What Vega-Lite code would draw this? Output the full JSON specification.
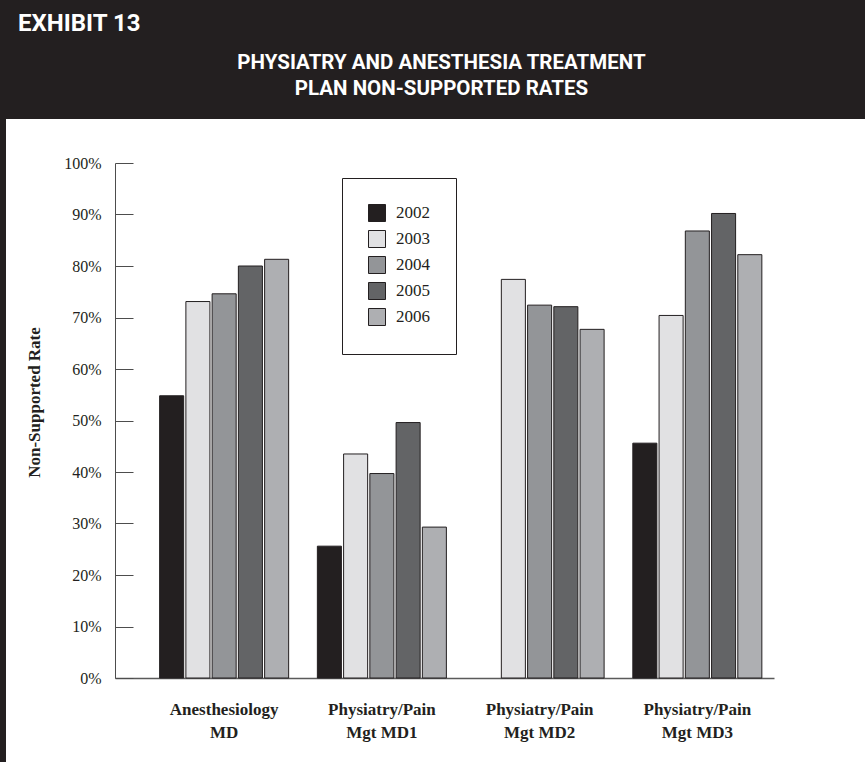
{
  "$schema": "https://vega.github.io/schema/vega-lite/v6.json",
  "background": "#231f20",
  "padding": {"left": 6, "top": 11, "right": 0, "bottom": 0},
  "title": {
    "text": "EXHIBIT 13",
    "anchor": "start",
    "color": "#ffffff",
    "font": "Roboto",
    "fontSize": 24,
    "fontWeight": "bold",
    "dx": 12,
    "offset": 17
  },
  "vconcat": [
    {
      "width": 859,
      "height": 643,
      "title": {
        "text": ["PHYSIATRY AND ANESTHESIA TREATMENT", "PLAN NON-SUPPORTED RATES"],
        "anchor": "middle",
        "color": "#ffffff",
        "font": "Roboto",
        "fontSize": 20.5,
        "fontWeight": "bold",
        "lineHeight": 26,
        "dx": 6,
        "offset": 20
      },
      "view": {"fill": "#ffffff", "stroke": null},
      "data": {
        "values": [
          {"Group": "Anesthesiology MD", "Year": "2002", "Rate": 54.8},
          {"Group": "Anesthesiology MD", "Year": "2003", "Rate": 73.1},
          {"Group": "Anesthesiology MD", "Year": "2004", "Rate": 74.6},
          {"Group": "Anesthesiology MD", "Year": "2005", "Rate": 80.0},
          {"Group": "Anesthesiology MD", "Year": "2006", "Rate": 81.3},
          {"Group": "Physiatry/Pain Mgt MD1", "Year": "2002", "Rate": 25.6},
          {"Group": "Physiatry/Pain Mgt MD1", "Year": "2003", "Rate": 43.5},
          {"Group": "Physiatry/Pain Mgt MD1", "Year": "2004", "Rate": 39.7},
          {"Group": "Physiatry/Pain Mgt MD1", "Year": "2005", "Rate": 49.6},
          {"Group": "Physiatry/Pain Mgt MD1", "Year": "2006", "Rate": 29.3},
          {"Group": "Physiatry/Pain Mgt MD2", "Year": "2003", "Rate": 77.4},
          {"Group": "Physiatry/Pain Mgt MD2", "Year": "2004", "Rate": 72.4},
          {"Group": "Physiatry/Pain Mgt MD2", "Year": "2005", "Rate": 72.1},
          {"Group": "Physiatry/Pain Mgt MD2", "Year": "2006", "Rate": 67.7},
          {"Group": "Physiatry/Pain Mgt MD3", "Year": "2002", "Rate": 45.6},
          {"Group": "Physiatry/Pain Mgt MD3", "Year": "2003", "Rate": 70.4},
          {"Group": "Physiatry/Pain Mgt MD3", "Year": "2004", "Rate": 86.8},
          {"Group": "Physiatry/Pain Mgt MD3", "Year": "2005", "Rate": 90.2},
          {"Group": "Physiatry/Pain Mgt MD3", "Year": "2006", "Rate": 82.2}
        ]
      },
      "mark": {"type": "bar", "stroke": "#231f20", "strokeWidth": 1},
      "encoding": {
        "x": {
          "field": "Group",
          "type": "nominal",
          "sort": null,
          "scale": {"range": [109, 768], "paddingInner": 0.182, "paddingOuter": 0.18, "align": 0.786},
          "axis": {
            "orient": "bottom",
            "offset": -84,
            "title": null,
            "ticks": false,
            "domainColor": "#5a5a5a",
            "domainWidth": 1.5,
            "labelAngle": 0,
            "labelPadding": 23,
            "labelFont": "Liberation Serif",
            "labelFontSize": 17,
            "labelFontWeight": "bold",
            "labelColor": "#231f20",
            "labelLineHeight": 23,
            "labelExpr": "[slice(datum.label, 0, indexof(datum.label, ' ')), slice(datum.label, indexof(datum.label, ' ') + 1)]"
          }
        },
        "xOffset": {
          "field": "Year",
          "type": "nominal",
          "scale": {"paddingInner": 0.084, "paddingOuter": 0}
        },
        "y": {
          "field": "Rate",
          "type": "quantitative",
          "scale": {"domain": [0, 100], "range": [559, 44], "nice": false},
          "axis": {
            "orient": "left",
            "offset": -109,
            "values": [0, 10, 20, 30, 40, 50, 60, 70, 80, 90, 100],
            "labelExpr": "datum.value + '%'",
            "grid": false,
            "domainColor": "#4d4d4d",
            "tickColor": "#4d4d4d",
            "tickSize": -18,
            "labelPadding": 32,
            "labelFont": "Liberation Serif",
            "labelFontSize": 16,
            "labelColor": "#231f20",
            "title": "Non-Supported Rate",
            "titleFont": "Liberation Serif",
            "titleFontSize": 17,
            "titleFontWeight": "bold",
            "titleColor": "#231f20",
            "titleX": -81,
            "titleY": 283,
            "titleBaseline": "middle"
          }
        },
        "color": {
          "field": "Year",
          "type": "nominal",
          "scale": {
            "domain": ["2002", "2003", "2004", "2005", "2006"],
            "range": ["#231f20", "#e1e1e3", "#939598", "#636466", "#aeafb2"]
          },
          "legend": {
            "title": null,
            "orient": "none",
            "legendX": 336,
            "legendY": 59,
            "padding": 26,
            "fillColor": "#ffffff",
            "strokeColor": "#231f20",
            "symbolType": "square",
            "symbolSize": 289,
            "symbolStrokeColor": "#231f20",
            "symbolStrokeWidth": 1,
            "symbolOpacity": 1,
            "rowPadding": 4,
            "labelOffset": 10,
            "labelFont": "Liberation Serif",
            "labelFontSize": 17,
            "labelColor": "#231f20"
          }
        }
      }
    }
  ],
  "config": {"view": {"stroke": null}}
}
